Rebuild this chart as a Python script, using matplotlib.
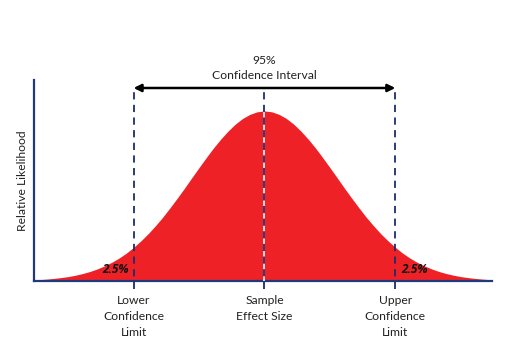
import matplotlib
matplotlib.use("Agg")
import matplotlib.pyplot as plt

# Relative likelihood (x in SD units of the drawn bell)
x_vals = [round(-3.2 + 0.1 * i, 1) for i in range(65)]
likelihood_right = [1.000, 0.995, 0.980, 0.956, 0.923, 0.882, 0.835, 0.783, 0.726,
                    0.667, 0.607, 0.546, 0.487, 0.430, 0.375, 0.325, 0.278, 0.236,
                    0.198, 0.164, 0.135, 0.110, 0.089, 0.071, 0.056, 0.044, 0.034,
                    0.026, 0.020, 0.015, 0.011, 0.008, 0.006]
likelihood = likelihood_right[::-1] + likelihood_right[1:]
lower_limit = -1.8
estimate = 0.0
upper_limit = 1.8
tail_label = "2.5%"
ci_labels = ["95%", "Confidence Interval"]
limit_labels = ["Lower\nConfidence\nLimit", "Sample\nEffect Size", "Upper\nConfidence\nLimit"]

plt.rcParams['font.family'] = ['Lato', 'DejaVu Sans']

fig = plt.figure(figsize=(5.28, 3.6), dpi=100)
ax = fig.add_axes([34/528, 79/360, 458/528, 201/360])
ax.set_xlim(-3.17, 3.13)
ax.set_ylim(0, 1.182)

navy = '#1f3a7a'
dash_col = '#1c2d6b'
red = '#ee2226'

ax.fill_between(x_vals, likelihood, 0, color=red, linewidth=0)

for s in ['top', 'right']:
    ax.spines[s].set_visible(False)
for s in ['left', 'bottom']:
    ax.spines[s].set_color(navy)
    ax.spines[s].set_linewidth(1.6)
ax.set_xticks([])
ax.set_yticks([])

y_top = 1.135
y_bot = -0.045
# white underlay on centre line
ax.plot([estimate, estimate], [0, 1.0], color='white', lw=1.3, alpha=0.9, zorder=3)
for xv in [lower_limit, estimate, upper_limit]:
    ax.plot([xv, xv], [y_bot, y_top], color=dash_col, lw=1.3,
            linestyle=(0, (4, 3)), clip_on=False, zorder=4)

ax.annotate('', xy=(upper_limit, y_top), xytext=(lower_limit, y_top),
            arrowprops=dict(arrowstyle='<|-|>', color='black', lw=1.8,
                            mutation_scale=11, shrinkA=0, shrinkB=0),
            annotation_clip=False, zorder=5)

ax.text(estimate, 1.297, ci_labels[0], ha='center', va='center', fontsize=8.7,
        color='#222222')
ax.text(estimate, 1.207, ci_labels[1], ha='center', va='center', fontsize=8.7,
        color='#222222')

for xv, lab in zip([lower_limit, estimate, upper_limit], limit_labels):
    ax.text(xv, -0.08, lab, ha='center', va='top', fontsize=8.7,
            color='#222222', linespacing=1.55)

for xv in [-2.05, 2.07]:
    ax.text(xv, 0.065, tail_label, ha='center', va='center', fontsize=8.6,
            fontweight='bold', fontstyle='italic', color='#111111', zorder=6,
            family=['Open Sans', 'DejaVu Sans'])

ax.set_ylabel('Relative Likelihood', fontsize=8.7, color='#222222', labelpad=4)

fig.savefig('out.png', dpi=100)
